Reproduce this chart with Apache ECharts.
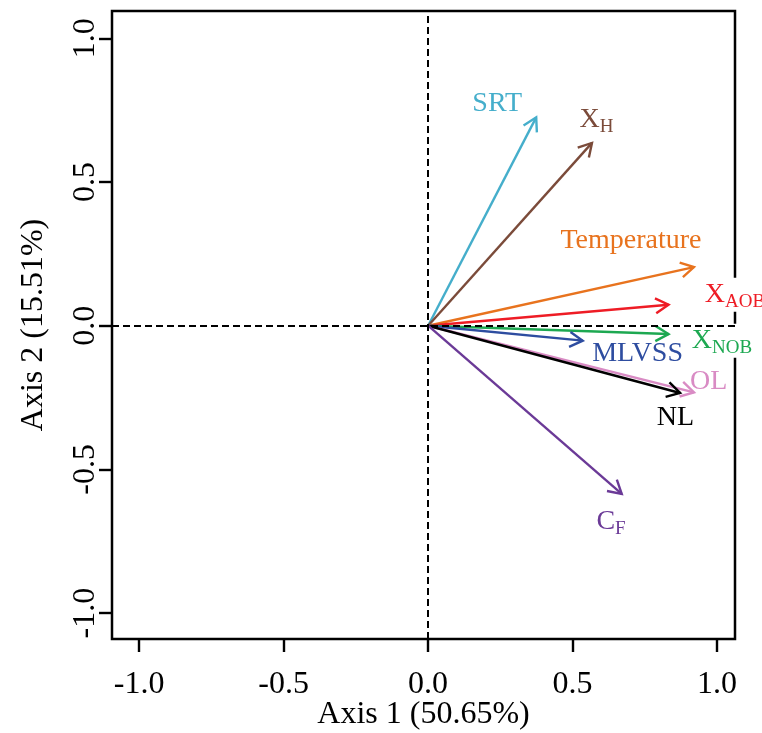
<!DOCTYPE html>
<html><head><meta charset="utf-8">
<script src="https://cdn.jsdelivr.net/npm/echarts@6/dist/echarts.min.js"></script>
<style>html,body{margin:0;padding:0;background:#fff}#c{width:762px;height:733px}</style>
</head><body><div id="c"></div>
<script>
// ---- data ----
const variables = ['SRT', 'X_H', 'Temperature', 'X_AOB', 'X_NOB', 'MLVSS', 'OL', 'NL', 'C_F'];
const axis1Loadings = [0.374, 0.567, 0.920, 0.832, 0.832, 0.535, 0.920, 0.872, 0.670];
const axis2Loadings = [0.725, 0.636, 0.204, 0.073, -0.029, -0.052, -0.232, -0.234, -0.585];
const labelMain = ['SRT', 'X', 'Temperature', 'X', 'X', 'MLVSS', 'OL', 'NL', 'C'];
const labelSub = ['', 'H', '', 'AOB', 'NOB', '', '', '', 'F'];
const labelAxis1 = [0.239, 0.583, 0.702, 1.062, 1.017, 0.725, 0.971, 0.856, 0.633];
const labelAxis2 = [0.776, 0.722, 0.299, 0.111, -0.049, -0.092, -0.191, -0.315, -0.678];
const xTicks = [-1.0, -0.5, 0.0, 0.5, 1.0];
const yTicks = [-1.0, -0.5, 0.0, 0.5, 1.0];
const xTitle = 'Axis 1 (50.65%)';
const yTitle = 'Axis 2 (15.51%)';

// ---- styles ----
const colorOf = {
  'SRT': '#45AECB', 'X_H': '#7B4B3A', 'Temperature': '#E8731E', 'X_AOB': '#EE1C25',
  'X_NOB': '#1DA851', 'MLVSS': '#2E4DA0', 'OL': '#D98BC4', 'NL': '#000000', 'C_F': '#6B3A97'
};
const FONT = '"Liberation Serif", "DejaVu Serif", serif';

const chart = echarts.init(document.getElementById('c'), null, {renderer: 'canvas'});

function arrowItem(params, api) {
  const o = api.coord([0, 0]);
  const t = api.coord([api.value(0), api.value(1)]);
  const ang = Math.atan2(t[1] - o[1], t[0] - o[0]);
  const L = 15, a = Math.PI / 6;
  const h1 = [t[0] - L * Math.cos(ang - a), t[1] - L * Math.sin(ang - a)];
  const h2 = [t[0] - L * Math.cos(ang + a), t[1] - L * Math.sin(ang + a)];
  const color = colorOf[variables[params.dataIndex]];
  return {type: 'group', children: [
    {type: 'line', shape: {x1: o[0], y1: o[1], x2: t[0], y2: t[1]}, style: {stroke: color, lineWidth: 2.4}},
    {type: 'polyline', shape: {points: [h1, t, h2]}, style: {stroke: color, lineWidth: 2.4, fill: null}}
  ]};
}

function labelItem(params, api) {
  const i = params.dataIndex;
  const p = api.coord([api.value(0), api.value(1)]);
  const c = colorOf[variables[i]];
  const text = labelSub[i] ? '{m|' + labelMain[i] + '}{s|' + labelSub[i] + '}' : '{m|' + labelMain[i] + '}';
  return {type: 'text', x: p[0], y: p[1] + 1, style: {
    text: text, align: 'center', verticalAlign: 'middle', backgroundColor: '#fff',
    rich: {
      m: {fontSize: 28, fontFamily: FONT, fill: c, lineHeight: 34, verticalAlign: 'middle'},
      s: {fontSize: 19, fontFamily: FONT, fill: c, lineHeight: 20, verticalAlign: 'bottom'}
    }
  }};
}

const labelFont = {fontSize: 32, fontFamily: FONT, color: '#000'};

chart.setOption({
  animation: false,
  backgroundColor: '#fff',
  grid: {left: 112, top: 11, width: 623, height: 628, containLabel: false, outerBoundsMode: 'none',
         show: true, borderColor: '#000', borderWidth: 2.5, backgroundColor: 'transparent'},
  xAxis: {
    type: 'value', min: -1.094, max: 1.062,
    splitLine: {show: false}, axisLine: {show: false, onZero: false},
    axisTick: {show: true, customValues: xTicks, length: 13, lineStyle: {color: '#000', width: 2.4}},
    axisLabel: Object.assign({customValues: xTicks, formatter: v => v.toFixed(1), margin: 30}, labelFont),
    name: xTitle, nameLocation: 'middle', nameGap: 60, nameMoveOverlap: false,
    nameTextStyle: {fontSize: 32, fontFamily: FONT, color: '#000'}
  },
  yAxis: {
    type: 'value', min: -1.09, max: 1.095,
    splitLine: {show: false}, axisLine: {show: false, onZero: false},
    axisTick: {show: true, customValues: yTicks, length: 13, lineStyle: {color: '#000', width: 2.4}},
    axisLabel: Object.assign({customValues: yTicks, formatter: v => v.toFixed(1), rotate: 90, margin: 10}, labelFont),
    name: yTitle, nameLocation: 'middle', nameGap: 62, nameRotate: 90,
    nameTextStyle: {fontSize: 32, fontFamily: FONT, color: '#000'}
  },
  series: [
    {
      type: 'custom', z: 2, renderItem: labelItem,
      data: labelAxis1.map((v, i) => [v, labelAxis2[i]])
    },
    {
      type: 'custom', z: 3, renderItem: arrowItem,
      data: axis1Loadings.map((v, i) => [v, axis2Loadings[i]]),
      markLine: {
        silent: true, symbol: 'none', label: {show: false},
        lineStyle: {color: '#000', type: [7, 4], width: 2},
        data: [{xAxis: 0}, {yAxis: 0}]
      }
    }
  ]
});
</script>
</body></html>
